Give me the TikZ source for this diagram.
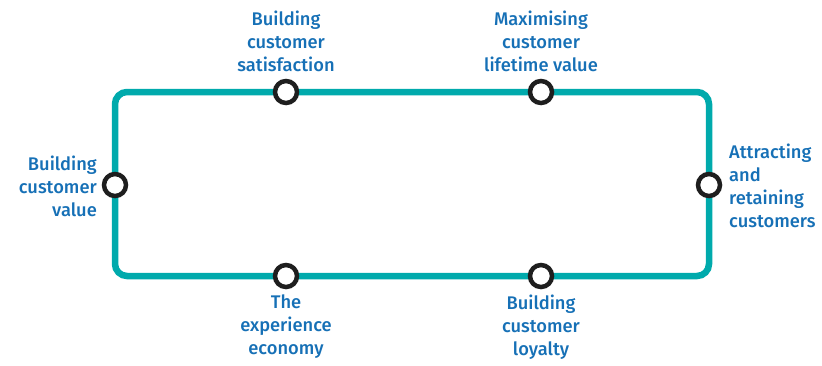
\documentclass[tikz,border=0pt]{standalone}
\usepackage{fontspec}
\setmainfont{Fira Sans}[BoldFont={Fira Sans Medium}]
\definecolor{teal}{RGB}{0,170,172}
\definecolor{lblue}{RGB}{22,112,182}
\definecolor{dark}{RGB}{30,30,30}
\begin{document}
\begin{tikzpicture}[x=1pt,y=-1pt,
  stop/.style={circle,draw=dark,line width=4.5pt,fill=white,minimum size=22pt,inner sep=0pt},
  lbl/.style={text=lblue,font=\fontsize{18.3}{23}\selectfont\bfseries,inner sep=0pt},
  track/.style={draw=teal,line width=6.5pt,rounded corners=12pt}]
\useasboundingbox (0,0) rectangle (822,365);
\coordinate (tl) at (115,92);
\coordinate (tr) at (709,92);
\coordinate (br) at (709,276);
\coordinate (bl) at (115,276);
\draw[track] (tl) -- (tr) -- (br) -- (bl) -- cycle;
\node[stop] (s1) at (286,92) {};
\node[stop] (s2) at (541,92) {};
\node[stop] (s3) at (115,185) {};
\node[stop] (s4) at (709,185) {};
\node[stop] (s5) at (286,276) {};
\node[stop] (s6) at (541,276) {};
\node[lbl,align=center,anchor=south] (l1) at (286,72) {Building\\customer\\satisfaction};
\node[lbl,align=center,anchor=south] (l2) at (541,72) {Maximising\\customer\\lifetime value};
\node[lbl,align=right,anchor=east] (l3) at (97,186) {Building\\customer\\value};
\node[lbl,align=left,anchor=west] (l4) at (729,186) {Attracting\\and\\retaining\\customers};
\node[lbl,align=center,anchor=north] (l5) at (286,295) {The\\experience\\economy};
\node[lbl,align=center,anchor=north] (l6) at (541,295) {Building\\customer\\loyalty};
\end{tikzpicture}
\end{document}
